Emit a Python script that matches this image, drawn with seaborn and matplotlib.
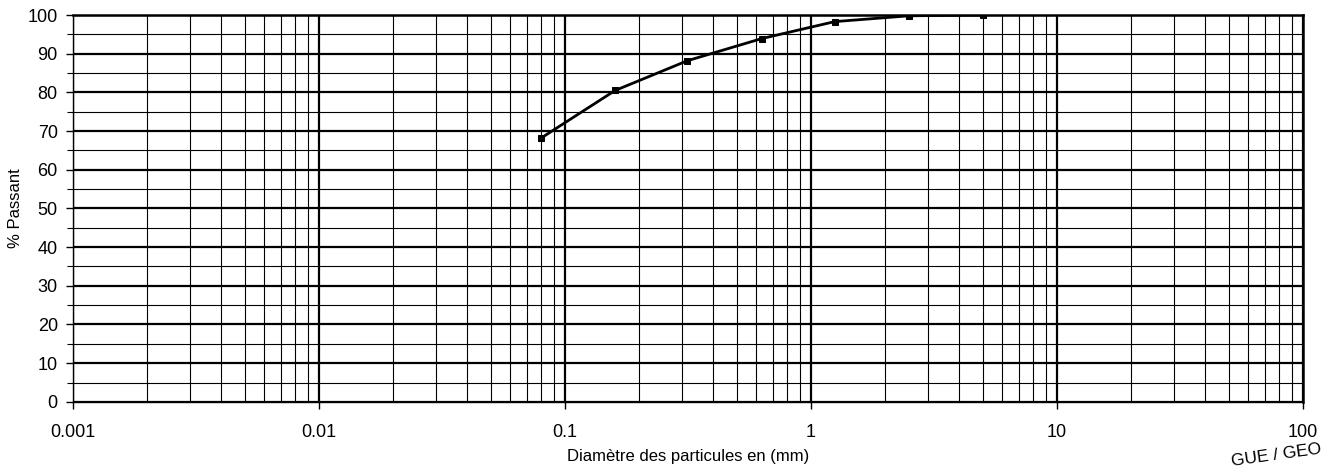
import matplotlib
matplotlib.use("Agg")
import matplotlib.pyplot as plt
import seaborn as sns
import pandas as pd
import numpy as np
from matplotlib.ticker import LogLocator, FixedLocator, FixedFormatter, MultipleLocator

# Data
diam_mm = [0.08, 0.16, 0.315, 0.63, 1.25, 2.5, 5.0]
passant = [68.2, 80.5, 88.2, 93.9, 98.3, 99.8, 100.0]
x_ticks = [0.001, 0.01, 0.1, 1, 10, 100]
x_tick_labels = ["0.001", "0.01", "0.1", "1", "10", "100"]
y_ticks = [0, 10, 20, 30, 40, 50, 60, 70, 80, 90, 100]

df = pd.DataFrame({"d": diam_mm, "p": passant})

sns.set_theme(style="ticks")
plt.rcParams['font.family'] = ['Liberation Sans', 'DejaVu Sans']

fig = plt.figure(figsize=(13.28, 4.70), dpi=100)
ax = fig.add_axes([0.055, 0.145, 0.926, 0.823])

sns.lineplot(data=df, x="d", y="p", ax=ax, color="black", linewidth=2.0,
             marker="s", markersize=5, markeredgecolor="black", markerfacecolor="black",
             zorder=5)

ax.set_xscale("log")
ax.set_xlim(0.001, 100)
ax.set_ylim(0, 100)

ax.xaxis.set_major_locator(FixedLocator(x_ticks))
ax.xaxis.set_major_formatter(FixedFormatter(x_tick_labels))
ax.xaxis.set_minor_locator(LogLocator(base=10, subs=np.arange(2, 10), numticks=100))
ax.xaxis.set_minor_formatter(FixedFormatter([]))
ax.yaxis.set_major_locator(FixedLocator(y_ticks))
ax.yaxis.set_minor_locator(MultipleLocator(5))

ax.grid(which="major", color="black", linewidth=1.6)
ax.grid(which="minor", color="black", linewidth=0.8)
ax.tick_params(axis="x", which="minor", length=0)
ax.tick_params(axis="y", which="minor", length=4, width=0.8, color="black")
ax.tick_params(which="major", length=5, width=1.0, color="black", labelsize=13,
               labelcolor="black")
ax.tick_params(axis="x", which="major", pad=11)
ax.tick_params(axis="y", which="major", pad=6)

for side in ["left", "bottom"]:
    ax.spines[side].set_linewidth(1.0)
    ax.spines[side].set_color("black")
for side in ["top", "right"]:
    ax.spines[side].set_visible(True)
    ax.spines[side].set_linewidth(1.8)
    ax.spines[side].set_color("black")

ax.set_xlabel("Diamètre des particules en (mm)", fontsize=12, color="black", labelpad=6)
ax.set_ylabel("% Passant", fontsize=12, color="black", labelpad=3)

# stamp fragment in bottom-right corner
fig.text(0.996, 0.002, "GUE / GEO", fontsize=12.5, rotation=8, color="black",
         ha="right", va="bottom", family=["Liberation Sans", "DejaVu Sans"])

fig.savefig("out.png", dpi=100)
